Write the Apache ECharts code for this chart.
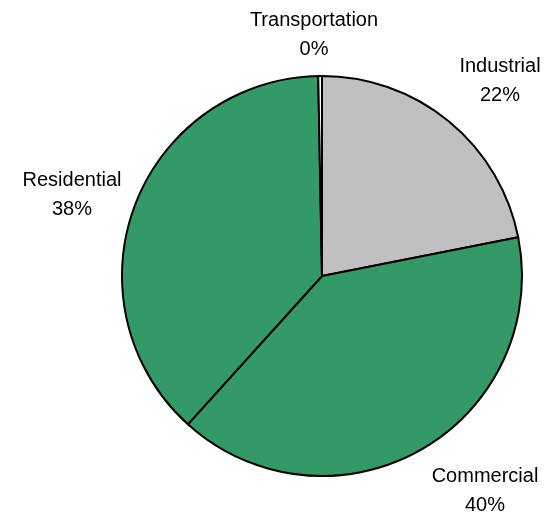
<!DOCTYPE html>
<html>
<head>
<meta charset="utf-8">
<script src="https://cdn.jsdelivr.net/npm/echarts@6/dist/echarts.min.js"></script>
<style>
  html, body { margin: 0; padding: 0; background: #fff; }
  #chart { width: 546px; height: 513px; }
</style>
</head>
<body>
<div id="chart"></div>
<script>
// Energy use by sector (share of total)
const sectors = ['Industrial', 'Commercial', 'Residential', 'Transportation'];
const shares = [21.9, 39.8, 38.0, 0.3];
const sliceColors = ['#C0C0C0', '#339966', '#339966', '#FFFFFF'];

// Where each two-line label is centred
const labelAnchors = [[500, 81], [485, 491], [72, 195], [314, 35]];

const chart = echarts.init(document.getElementById('chart'), null, { renderer: 'canvas' });

chart.setOption({
  backgroundColor: '#ffffff',
  animation: false,
  series: [{
    type: 'pie',
    center: [322, 276],
    radius: 200,
    startAngle: 90,
    clockwise: true,
    percentPrecision: 0,
    avoidLabelOverlap: false,
    data: sectors.map((name, i) => ({
      name: name,
      value: shares[i],
      itemStyle: { color: sliceColors[i] }
    })),
    itemStyle: {
      borderColor: '#000000',
      borderWidth: 2
    },
    emphasis: { disabled: true },
    label: {
      show: true,
      position: 'outside',
      formatter: '{b}\n{d}%',
      fontFamily: '"Liberation Sans", Arial, sans-serif',
      fontSize: 20,
      lineHeight: 29,
      color: '#000000',
      align: 'center'
    },
    labelLine: { show: false },
    labelLayout: function (params) {
      const p = labelAnchors[params.dataIndex];
      return { x: p[0], y: p[1], align: 'center', verticalAlign: 'middle' };
    }
  }]
});
</script>
</body>
</html>
